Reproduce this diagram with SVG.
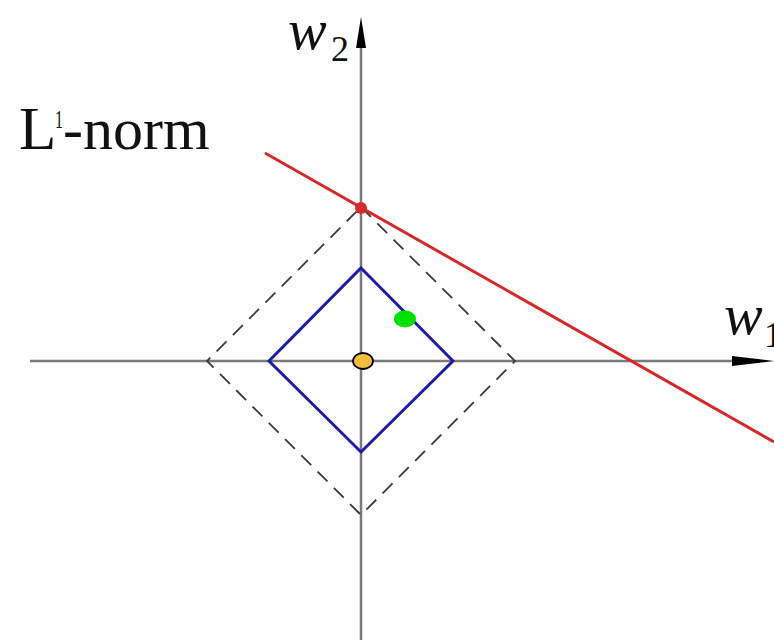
<svg xmlns="http://www.w3.org/2000/svg" width="774" height="640" viewBox="0 0 774 640">
<style>
.axis{stroke:#7a7a7a;stroke-width:2.5;fill:none}
.dash{stroke:#3a3a3a;stroke-width:1.8;fill:none;stroke-dasharray:14 9}
.blue{stroke:#1c1ca6;stroke-width:3;fill:none;stroke-linejoin:miter}
.red{stroke:#d42a2a;stroke-width:3}
.lab{font-family:"Liberation Serif",serif;fill:#111}
</style>
<rect width="774" height="640" fill="#fff"/>
<g id="connectors">
<line class="axis" x1="361" y1="40" x2="361" y2="640"/>
<line class="axis" x1="30" y1="361" x2="740" y2="361"/>
<polygon points="361,17 356,48 366,48" fill="#000"/>
<polygon points="774,361 732,356 732,366" fill="#000"/>
</g>
<g id="dashed-diamond"><polygon class="dash" points="361,207 515,361 361,515 207,361"/></g>
<g id="blue-diamond"><polygon class="blue" points="361,268 453,361 361,452 269,361"/></g>
<g id="red-line"><line class="red" x1="265" y1="153" x2="774" y2="442"/></g>
<g id="red-dot"><circle cx="361" cy="208" r="6" fill="#d42a2a"/></g>
<g id="green-dot"><ellipse cx="405" cy="319" rx="11" ry="8.5" fill="#00e000"/></g>
<g id="orange-dot"><ellipse cx="363" cy="361" rx="10" ry="8" fill="#f2be3e" stroke="#000" stroke-width="1.8"/></g>
<g id="label-l1norm">
<text class="lab" x="19" y="149" font-size="61">L</text>
<text class="lab" x="55" y="128" font-size="26" textLength="8" lengthAdjust="spacingAndGlyphs">1</text>
<text class="lab" x="63" y="149" font-size="60">-norm</text>
</g>
<g id="label-w2">
<text class="lab" x="288" y="49" font-size="58" font-style="italic">w</text>
<text class="lab" x="331" y="61" font-size="36">2</text>
</g>
<g id="label-w1">
<text class="lab" x="724" y="334" font-size="58" font-style="italic">w</text>
<text class="lab" x="764" y="347" font-size="36">1</text>
</g>
</svg>
